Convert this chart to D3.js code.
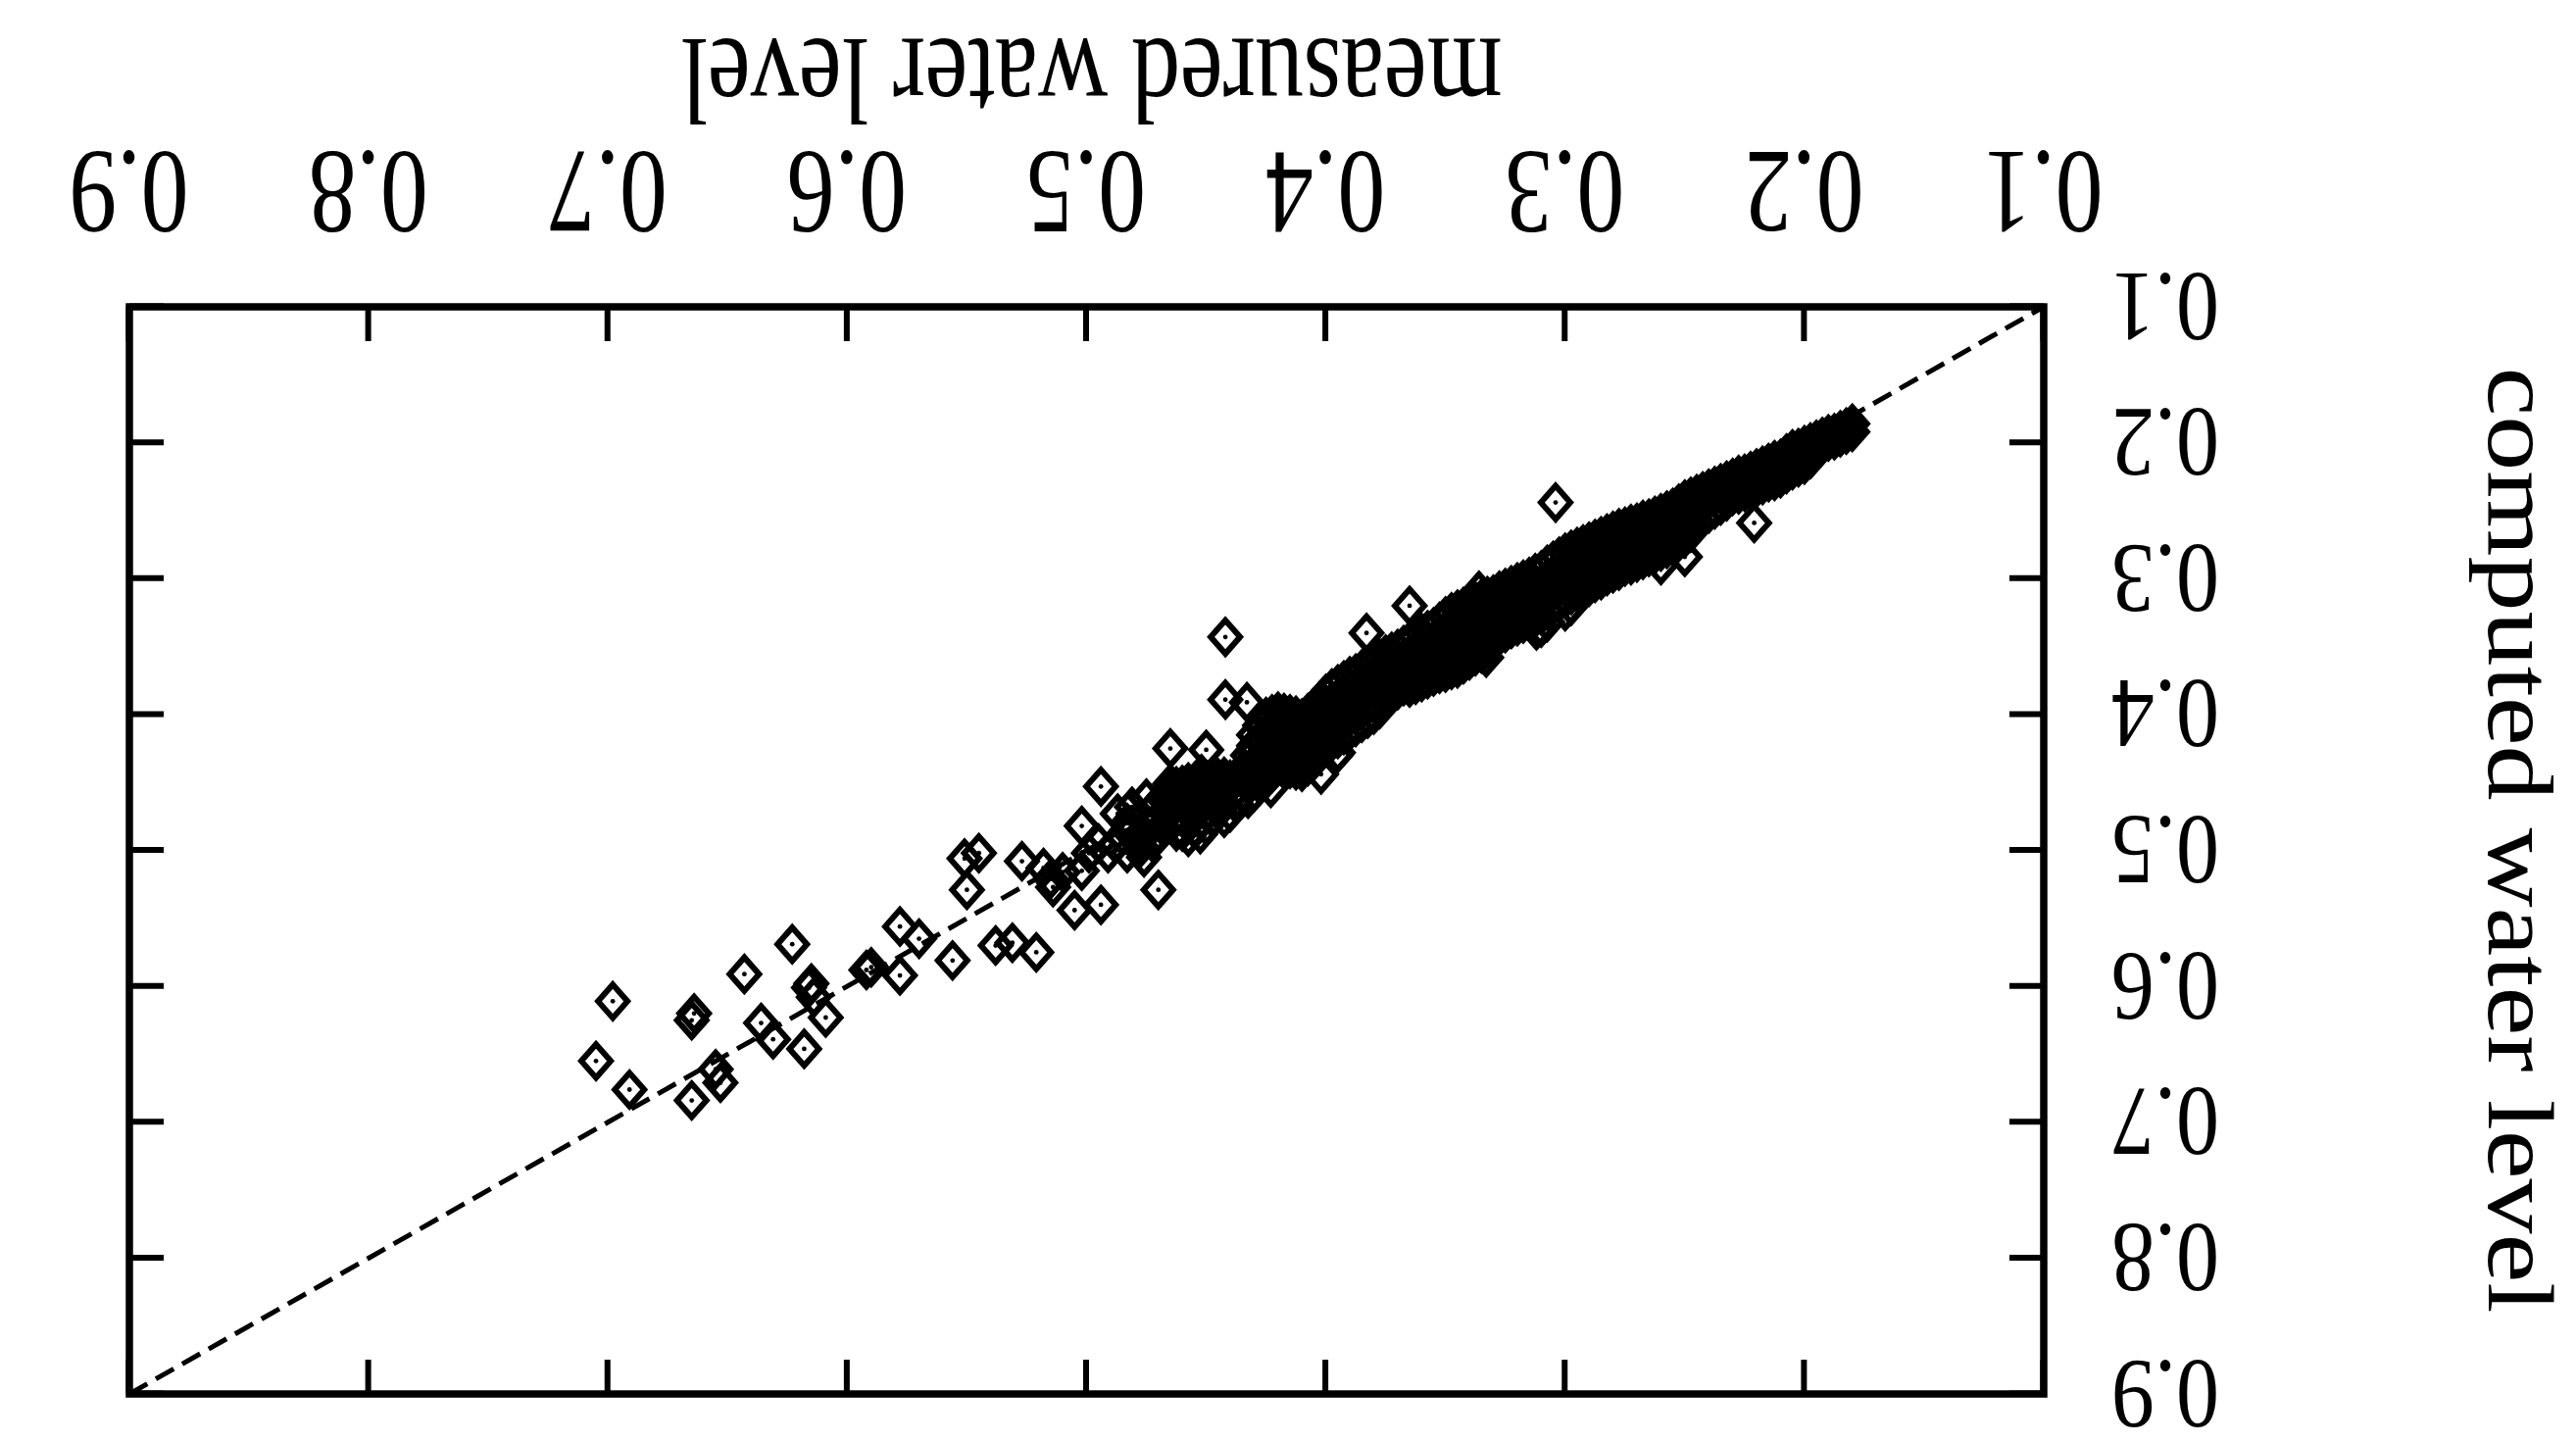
<!DOCTYPE html>
<html>
<head>
<meta charset="utf-8">
<script src="https://cdn.jsdelivr.net/npm/d3@7"></script>
<style>
  html, body { margin: 0; padding: 0; background: #fff; }
  svg { display: block; }
</style>
</head>
<body>
<svg id="chart" width="2628" height="1472"></svg>
<script>
// ---------------- data ----------------
const tickValues = [0.1, 0.2, 0.3, 0.4, 0.5, 0.6, 0.7, 0.8, 0.9];
const tickLabels = ["0.1", "0.2", "0.3", "0.4", "0.5", "0.6", "0.7", "0.8", "0.9"];
const xTitle = "measured water level";
const yTitle = "computed water level";
const refLine = [0.9, 0.1]; // 1:1 line, measured = computed

// individually readable points
const outlierMeasured = [
  0.698,0.705,0.691,0.665,0.664,0.665,0.653,0.655,0.643,0.623,
  0.636,0.631,0.618,0.615,0.616,0.614,0.609,0.590,0.592,0.578,
  0.578,0.570,0.556,0.550,0.551,0.545,0.538,0.531,0.521,0.527,
  0.515,0.510,0.502,0.505,0.494,0.494,0.502,0.476,0.470,0.465,
  0.450,0.488,0.483,0.478,0.470,0.491,0.483,0.465,0.458,0.452,
  0.463,0.448,0.444,0.455,0.467,0.445,0.438,0.433,0.423,0.402,
  0.396,0.442,0.442,0.433,0.383,0.365,0.395,0.304,0.260,0.250,
  0.221,0.426,0.418,0.413,0.422,0.409,0.430,0.436,0.487,0.481,
  0.475,0.483,0.495,0.499,0.514,0.518,0.336,0.333,0.312
];
const outlierComputed = [
  0.611,0.655,0.676,0.625,0.620,0.684,0.671,0.661,0.591,0.569,
  0.627,0.639,0.646,0.598,0.601,0.608,0.623,0.586,0.588,0.592,
  0.556,0.565,0.581,0.529,0.506,0.502,0.570,0.568,0.575,0.508,
  0.521,0.516,0.515,0.544,0.540,0.453,0.482,0.505,0.529,0.425,
  0.426,0.495,0.485,0.493,0.487,0.502,0.502,0.451,0.466,0.444,
  0.477,0.460,0.451,0.484,0.464,0.471,0.464,0.446,0.454,0.444,
  0.430,0.343,0.389,0.391,0.340,0.320,0.428,0.244,0.290,0.284,
  0.259,0.408,0.401,0.423,0.430,0.437,0.423,0.444,0.473,0.468,
  0.462,0.480,0.495,0.502,0.527,0.513,0.309,0.358,0.338
];

// dense band of overlapping points (estimated column by column)
const bandMeasured = [
  0.180,0.185,0.190,0.195,0.200,0.205,0.210,0.215,0.220,0.225,
  0.230,0.235,0.240,0.245,0.250,0.255,0.260,0.265,0.270,0.275,
  0.280,0.285,0.290,0.295,0.300,0.305,0.310,0.315,0.320,0.325,
  0.330,0.335,0.340,0.345,0.350,0.355,0.360,0.365,0.370,0.375,
  0.380,0.385,0.390,0.395,0.400,0.405,0.410,0.415,0.420,0.425,
  0.430,0.435,0.440,0.445,0.450,0.455,0.460,0.465
];
const bandComputed = [
  [0.186,0.192],[0.191,0.196],[0.194,0.199],[0.198,0.203],
  [0.202,0.210,0.216],[0.205,0.213,0.220],[0.212,0.220,0.226],[0.215,0.222,0.229],
  [0.219,0.227,0.233],[0.223,0.230,0.236],[0.226,0.233,0.239],[0.230,0.238,0.246],
  [0.234,0.242,0.252],[0.238,0.248,0.258],
  [0.242,0.252,0.262,0.270],[0.248,0.258,0.268,0.276],[0.252,0.262,0.272,0.280],
  [0.256,0.265,0.275,0.284],[0.259,0.269,0.279,0.288],[0.262,0.272,0.282,0.291],
  [0.265,0.275,0.286,0.296],[0.269,0.279,0.290,0.301],[0.273,0.283,0.294,0.306],
  [0.277,0.287,0.298,0.310],[0.281,0.292,0.303,0.315,0.324],[0.287,0.297,0.308,0.320],
  [0.294,0.304,0.315,0.327,0.336],[0.299,0.309,0.320,0.331],[0.303,0.313,0.324,0.335],
  [0.307,0.317,0.328,0.340],[0.312,0.322,0.333,0.345],[0.315,0.325,0.336,0.348,0.355],
  [0.319,0.330,0.341,0.352,0.360],[0.323,0.334,0.345,0.356,0.366],[0.328,0.338,0.349,0.360,0.369],
  [0.336,0.346,0.356,0.366,0.372],[0.340,0.350,0.360,0.370,0.376],[0.346,0.356,0.366,0.376,0.380],
  [0.352,0.362,0.372,0.382],[0.356,0.366,0.376,0.386],[0.362,0.372,0.382,0.392,0.400],
  [0.367,0.377,0.387,0.397,0.406],[0.372,0.382,0.392,0.402,0.412],[0.378,0.388,0.398,0.408,0.418],
  [0.385,0.395,0.405,0.415,0.422],[0.395,0.405,0.415,0.425,0.434],[0.403,0.413,0.423,0.433,0.442],
  [0.400,0.410,0.420,0.430,0.440],[0.398,0.408,0.418,0.428,0.438],[0.402,0.414,0.426,0.438,0.448],
  [0.415,0.428,0.445,0.457],[0.445,0.458],[0.448,0.460,0.472],[0.447,0.458,0.470],
  [0.448,0.460,0.472,0.482],[0.450,0.462,0.474,0.484],[0.452,0.464,0.476,0.486],
  [0.456,0.468,0.480]
];

// second, staggered set of band columns (the band is solid black in the figure)
const bandMidMeasured = [
  0.1825,0.1875,0.1925,0.1975,0.2025,0.2075,0.2125,0.2175,0.2225,0.2275,
  0.2325,0.2375,0.2425,0.2475,0.2525,0.2575,0.2625,0.2675,0.2725,0.2775,
  0.2825,0.2875,0.2925,0.2975,0.3025,0.3075,0.3125,0.3175,0.3225,0.3275,
  0.3325,0.3375,0.3425,0.3475,0.3525,0.3575,0.3625,0.3675,0.3725,0.3775,
  0.3825,0.3875,0.3925,0.3975,0.4025,0.4075,0.4125,0.4175,0.4225,0.4275,
  0.4325,0.4375,0.4425,0.4475,0.4525,0.4575,0.4625,0.4675,0.4725,0.4775
];
const bandMidComputed = [
  [0.189,0.194],[0.193,0.198],[0.196,0.201],[0.200,0.206,0.212],[0.204,0.211,0.218],
  [0.208,0.216,0.223],[0.213,0.221,0.228],[0.217,0.224,0.231],[0.221,0.228,0.235],[0.224,0.231,0.238],
  [0.228,0.236,0.243],[0.232,0.240,0.249],[0.236,0.245,0.255],[0.240,0.250,0.260,0.266],[0.245,0.255,0.265,0.273],
  [0.250,0.260,0.270,0.278],[0.254,0.263,0.273,0.282],[0.257,0.267,0.277,0.286],[0.260,0.270,0.280,0.290],[0.263,0.273,0.284,0.294],
  [0.267,0.277,0.288,0.298],[0.271,0.281,0.292,0.303],[0.275,0.285,0.296,0.308],[0.279,0.289,0.300,0.312,0.320],[0.284,0.294,0.305,0.317],
  [0.290,0.300,0.311,0.323,0.332],[0.296,0.306,0.317,0.329],[0.301,0.311,0.322,0.333],[0.305,0.315,0.326,0.337],[0.309,0.319,0.330,0.342],
  [0.313,0.323,0.334,0.346,0.352],[0.317,0.327,0.338,0.350,0.357],[0.321,0.332,0.343,0.354,0.363],[0.325,0.336,0.347,0.358,0.367],[0.332,0.342,0.352,0.363,0.370],
  [0.338,0.348,0.358,0.368,0.374],[0.343,0.353,0.363,0.373,0.378],[0.349,0.359,0.369,0.379],[0.354,0.364,0.374,0.384],[0.359,0.369,0.379,0.389,0.396],
  [0.364,0.374,0.384,0.394,0.403],[0.370,0.380,0.390,0.400,0.409],[0.375,0.385,0.395,0.405,0.415],[0.381,0.391,0.401,0.411,0.420],[0.390,0.400,0.410,0.420,0.428],
  [0.399,0.409,0.419,0.429,0.438],[0.401,0.411,0.421,0.431,0.441],[0.399,0.409,0.419,0.429,0.439],[0.400,0.411,0.422,0.433,0.443],[0.408,0.420,0.432,0.442,0.452],
  [0.430,0.442,0.452,0.462],[0.446,0.456,0.466],[0.446,0.456,0.466,0.476],[0.446,0.456,0.466,0.476],[0.448,0.458,0.468,0.478,0.488],
  [0.450,0.460,0.470,0.480,0.490],[0.453,0.464,0.475,0.486],[0.460,0.472,0.484],[0.470,0.482,0.494],[0.476,0.488,0.498]
];

// ---------------- drawing ----------------
const W = 2628, H = 1472;
const serif = "'Liberation Serif', 'Times New Roman', Times, serif";
const svg = d3.select("#chart");
svg.append("rect").attr("width", W).attr("height", H).attr("fill", "#fff");

// the reference figure is printed upside down: draw normally, then turn 180 degrees
const g = svg.append("g").attr("transform", `rotate(180 ${W / 2} ${H / 2})`);

const plot = { left: 543, right: 2496, top: 50, bottom: 1159 };
const x = d3.scaleLinear().domain([0.1, 0.9]).range([plot.left, plot.right]);
const y = d3.scaleLinear().domain([0.1, 0.9]).range([plot.bottom, plot.top]);

const points = [];
outlierMeasured.forEach((m, i) => points.push({ m, c: outlierComputed[i] }));
bandMeasured.forEach((m, i) => bandComputed[i].forEach(c => points.push({ m, c })));
bandMidMeasured.forEach((m, i) => bandMidComputed[i].forEach(c => points.push({ m, c })));

// 1:1 dashed reference line
g.append("path")
  .attr("d", d3.line()(refLine.map(v => [x(v), y(v)])))
  .attr("fill", "none")
  .attr("stroke", "#000")
  .attr("stroke-width", 5)
  .attr("stroke-dasharray", "21 10");

// markers: hollow diamonds with a centre dot
const diamond = "M0,-17L15,0L0,17L-15,0Z";
const mk = g.append("g").selectAll("g").data(points).join("g")
  .attr("transform", d => `translate(${x(d.m)},${y(d.c)})`);
mk.append("path").attr("d", diamond).attr("fill", "none")
  .attr("stroke", "#000").attr("stroke-width", 6).attr("stroke-linejoin", "miter");
mk.append("circle").attr("r", 2.4).attr("fill", "#000");

// axes (ticks point inward on all four sides)
const tickLen = 35;
function styleTicks(sel) {
  sel.select(".domain").remove();
  sel.selectAll(".tick line").attr("stroke", "#000").attr("stroke-width", 6);
}
const ax = g.append("g").attr("transform", `translate(0,${plot.bottom})`)
  .call(d3.axisBottom(x).tickValues(tickValues).tickFormat((d, i) => tickLabels[i])
    .tickSizeInner(-tickLen).tickSizeOuter(0));
styleTicks(ax);
ax.selectAll(".tick text")
  .attr("y", 158).attr("dy", 0)
  .attr("font-family", serif).attr("font-size", 122).attr("fill", "#000")
  .attr("textLength", 122).attr("lengthAdjust", "spacingAndGlyphs");

const ay = g.append("g").attr("transform", `translate(${plot.left},0)`)
  .call(d3.axisLeft(y).tickValues(tickValues).tickFormat((d, i) => tickLabels[i])
    .tickSizeInner(-tickLen).tickSizeOuter(0));
styleTicks(ay);
ay.selectAll(".tick text")
  .attr("x", -69).attr("dy", 34)
  .attr("font-family", serif).attr("font-size", 102).attr("fill", "#000")
  .attr("textLength", 110).attr("lengthAdjust", "spacingAndGlyphs");

const axTop = g.append("g").attr("transform", `translate(0,${plot.top})`)
  .call(d3.axisTop(x).tickValues(tickValues).tickFormat("").tickSizeInner(-tickLen).tickSizeOuter(0));
styleTicks(axTop);
const ayRight = g.append("g").attr("transform", `translate(${plot.right},0)`)
  .call(d3.axisRight(y).tickValues(tickValues).tickFormat("").tickSizeInner(-tickLen).tickSizeOuter(0));
styleTicks(ayRight);

// frame
g.append("rect")
  .attr("x", plot.left).attr("y", plot.top)
  .attr("width", plot.right - plot.left).attr("height", plot.bottom - plot.top)
  .attr("fill", "none").attr("stroke", "#000").attr("stroke-width", 7.5);

// titles
g.append("text")
  .attr("x", (plot.left + plot.right) / 2 - 5).attr("y", 1432)
  .attr("text-anchor", "middle")
  .attr("font-family", serif).attr("font-size", 124).attr("fill", "#000")
  .attr("textLength", 838).attr("lengthAdjust", "spacingAndGlyphs")
  .text(xTitle);

g.append("text")
  .attr("transform", "translate(89,615) rotate(-90)")
  .attr("text-anchor", "middle")
  .attr("font-family", serif).attr("font-size", 96).attr("fill", "#000")
  .attr("textLength", 965).attr("lengthAdjust", "spacingAndGlyphs")
  .text(yTitle);
</script>
</body>
</html>
